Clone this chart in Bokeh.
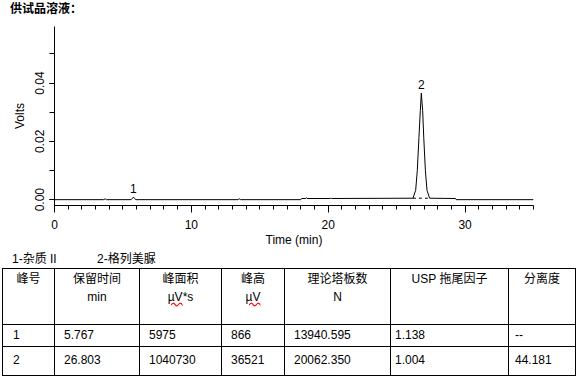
from bokeh.plotting import figure
from bokeh.models import Div, SingleIntervalTicker, PrintfTickFormatter, ColumnDataSource
from bokeh.layouts import column
from bokeh.core.properties import value
from bokeh.embed import file_html
from bokeh.resources import INLINE

# ---------------- data ----------------
# chromatogram trace (time in min, signal in volts)
time_min = [0, 3.6, 3.7, 3.8, 5.6, 5.70, 5.767, 5.85, 5.95, 13.4, 13.5, 13.6,
            18.0, 18.05, 18.35, 18.4, 18.45, 20.15, 20.2, 20.25,
            26.19, 26.39, 26.51, 26.63, 26.73, 26.803, 26.90, 26.98, 27.10, 27.22, 27.41,
            29.3, 29.35, 35]
volts = [0, 0, 0.0003, 0, 0, 0.0005, 0.000866, 0.0004, 0, 0, 0.0003, 0,
         0, 0.0004, 0.0004, 0.0007, 0.0004, 0.0004, 0.0006, 0.0004,
         0.0005, 0.0032, 0.0100, 0.0214, 0.0306, 0.036521, 0.0306, 0.0214, 0.0100, 0.0032, 0.0005,
         0.0004, 0, 0]
# dashed integration baseline under peak 2
baseline_time = [26.19, 27.41]
baseline_volts = [0.0005, 0.0005]

# peak table
peak_no = ["1", "2"]
peak_names = ["杂质 II", "格列美脲"]
ret_time = [5.767, 26.803]
peak_area = [5975, 1040730]
peak_height_uv = [866, 36521]
plates = [13940.595, 20062.350]
tailing = [1.138, 1.004]
resolution = [None, 44.181]

header_top = ["峰号", "保留时间", "峰面积", "峰高", "理论塔板数", "USP 拖尾因子", "分离度"]
header_unit = ["", "min", "µV*s", "µV", "N", "", ""]
title_text = "供试品溶液："

FONT = "Liberation Sans"
CJK = "Noto Sans CJK SC"

# ---------------- title ----------------
title_div = Div(text='<div style="position:relative;width:200px;height:18px;">'
                     '<span style="position:absolute;left:10px;top:1px;white-space:nowrap;'
                     'font-family:\'%s\',sans-serif;font-size:12px;font-weight:bold;color:#000;'
                     'line-height:14px;">%s</span></div>' % (CJK, title_text),
                width=200, height=18, margin=(0, 0, 0, 0))

# ---------------- chart ----------------
p = figure(width=575, height=232, x_range=(0, 35), y_range=(-0.002, 0.0594),
           output_backend="svg", toolbar_location=None,
           min_border_left=54, min_border_right=42, min_border_top=8, min_border_bottom=45,
           margin=(0, 0, 0, 0))
p.outline_line_color = None
p.grid.visible = False
p.background_fill_color = "white"
p.border_fill_color = "white"

p.line(time_min, volts, line_color="black", line_width=1)
p.line(baseline_time, baseline_volts, line_color="black", line_width=1, line_dash="3 3")

lab_src = ColumnDataSource(dict(x=ret_time, y=[h / 1e6 for h in peak_height_uv], t=peak_no))
p.text(x="x", y="y", text="t", source=lab_src, text_align="center", text_baseline="bottom",
       y_offset=-4, text_font=value(FONT), text_font_size="12px", text_color="black")

xa = p.xaxis[0]
xa.ticker = SingleIntervalTicker(interval=10, num_minor_ticks=10)
xa.axis_label = "Time (min)"
ya = p.yaxis[0]
ya.ticker = SingleIntervalTicker(interval=0.02, num_minor_ticks=2)
ya.formatter = PrintfTickFormatter(format="%.2f")
ya.axis_label = "Volts"
ya.major_label_orientation = "vertical"

for ax in (xa, ya):
    ax.axis_line_color = "black"
    ax.major_tick_line_color = "black"
    ax.minor_tick_line_color = "black"
    ax.major_tick_in = 0
    ax.minor_tick_in = 0
    ax.major_label_text_font = FONT
    ax.major_label_text_font_size = "12px"
    ax.major_label_text_color = "black"
    ax.axis_label_text_font = FONT
    ax.axis_label_text_font_size = "12px"
    ax.axis_label_text_font_style = "normal"
    ax.axis_label_text_color = "black"

xa.major_tick_out = 7
xa.minor_tick_out = 4
xa.major_label_standoff = 7
xa.axis_label_standoff = 1
ya.major_tick_out = 5
ya.minor_tick_out = 5
ya.major_label_standoff = 5
ya.axis_label_standoff = 6

# ---------------- legend + table ----------------
col_w = [52, 85, 82, 63, 106, 118, 67]
pad_l = [10, 9, 9, 9, 9, 4, 6]
row_h = [22, 29]

def unit_html(u):
    if u.startswith("µV"):
        return '<span style="text-decoration:underline wavy red;">µV</span>' + u[2:]
    return u

cells = "border:1px solid #000;"
html = ['<div style="position:relative;width:580px;height:127px;'
        'font-family:\'%s\',\'%s\',sans-serif;font-size:12px;color:#000;">' % (FONT, CJK)]
html.append('<span style="position:absolute;left:12px;top:1px;white-space:nowrap;">%s-%s</span>'
            % (peak_no[0], peak_names[0]))
html.append('<span style="position:absolute;left:97px;top:1px;white-space:nowrap;">%s-%s</span>'
            % (peak_no[1], peak_names[1]))
html.append('<table style="position:absolute;left:2px;top:18px;border-collapse:collapse;'
            'table-layout:fixed;width:%dpx;">' % sum(col_w))
html.append("<colgroup>" + "".join('<col style="width:%dpx">' % w for w in col_w) + "</colgroup>")
html.append('<tr style="height:56px;">')
for top, unit in zip(header_top, header_unit):
    html.append('<td style="%stext-align:center;vertical-align:top;padding:1px 0 0 0;'
                'line-height:18px;white-space:nowrap;">%s<br>%s</td>' % (cells, top, unit_html(unit)))
html.append("</tr>")
for i in range(len(peak_no)):
    vals = [peak_no[i], "%.3f" % ret_time[i], str(peak_area[i]), str(peak_height_uv[i]),
            "%.3f" % plates[i], "%.3f" % tailing[i],
            "--" if resolution[i] is None else "%.3f" % resolution[i]]
    html.append('<tr style="height:%dpx;">' % row_h[i])
    for v, pl in zip(vals, pad_l):
        html.append('<td style="%stext-align:left;vertical-align:middle;padding:0 0 0 %dpx;'
                    'white-space:nowrap;">%s</td>' % (cells, pl, v))
    html.append("</tr>")
html.append("</table></div>")

table_div = Div(text="".join(html), width=580, height=127, margin=(0, 0, 0, 0))

layout = column(title_div, p, table_div, margin=(0, 0, 0, 0))
open("out.html", "w").write(file_html(layout, INLINE))
